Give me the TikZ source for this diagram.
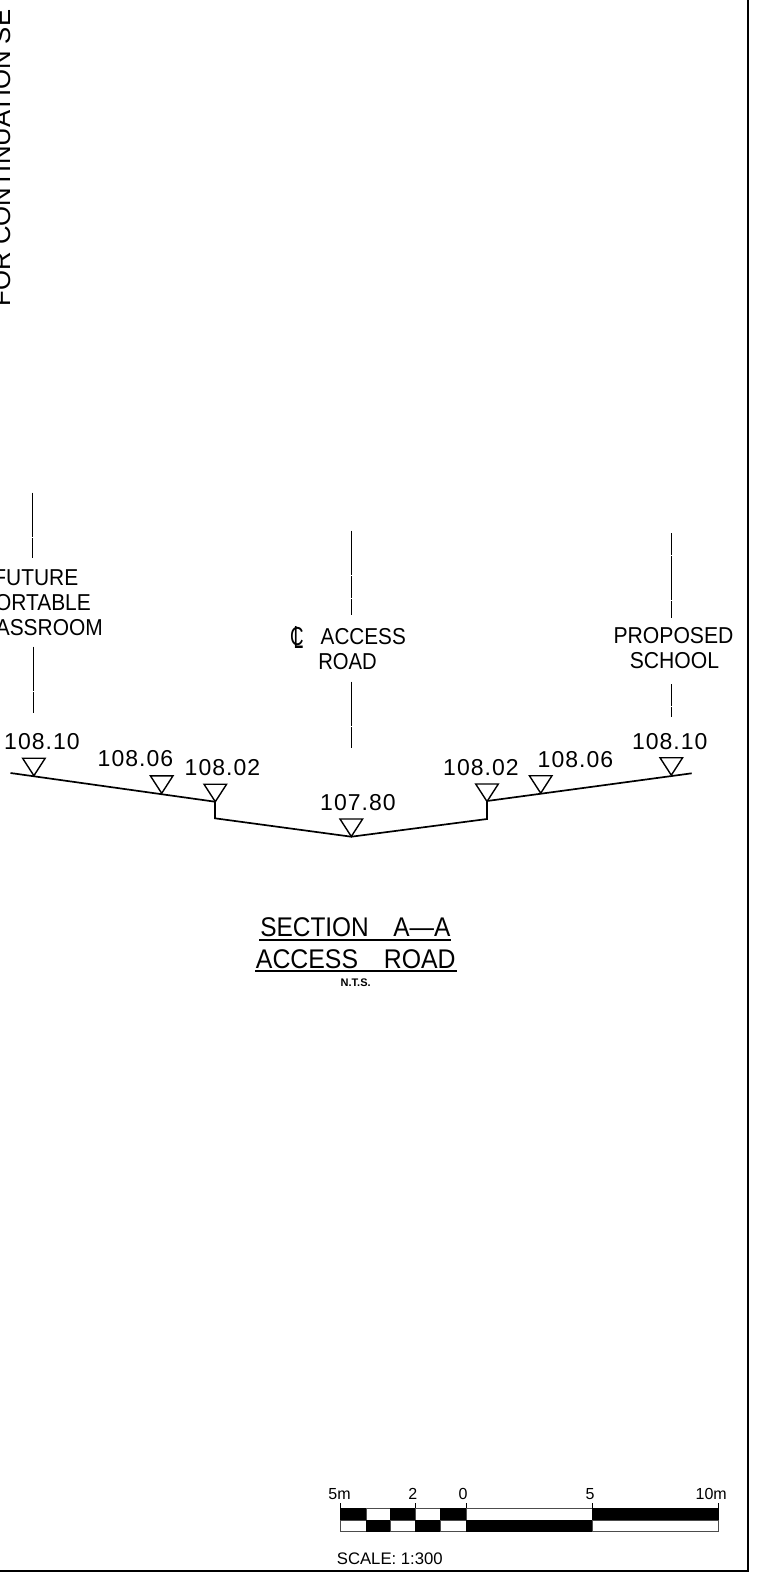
\documentclass[tikz,border=0pt]{standalone}
\usepackage{fontspec}
\setmainfont{Liberation Sans}
\newfontfamily\digf[LetterSpace=4.5]{Liberation Sans}
\tikzset{
  lab/.style={inner sep=0pt,anchor=base,font=\fontsize{23}{23}\selectfont,transform shape},
  elev/.style={inner sep=0pt,anchor=base,font=\digf\fontsize{23}{23}\selectfont},
  titl/.style={inner sep=0pt,anchor=base,font=\fontsize{27}{27}\selectfont,transform shape},
  sbar/.style={inner sep=0pt,anchor=base,font=\fontsize{16}{16}\selectfont},
  ground/.style={draw=black,line width=1.7pt,line join=miter},
  tri/.style={draw=black,line width=1.4pt,line join=miter},
  cline/.style={draw=black,line width=1.15pt,dash pattern=on 22pt off .7pt},
  ruler/.style={draw=black,line width=1.7pt},
  frameline/.style={draw=black,line width=1.8pt},
  barblk/.style={fill=black,draw=black,line width=.5pt},
  barwht/.style={fill=white,draw=black!70,line width=.9pt},
}
\newcommand{\elevtri}[3]{%
  \coordinate (t#1a) at (#2-11.3,#3-17.5);
  \coordinate (t#1b) at (#2+11.3,#3-17.5);
  \coordinate (t#1c) at (#2,#3);
  \draw[tri] (t#1a) -- (t#1b) -- (t#1c) -- cycle;
}
\begin{document}
\begin{tikzpicture}[x=1pt,y=-1pt]
\useasboundingbox (0,0) rectangle (763,1573);
\clip (0,0) rectangle (763,1573);
% frame
\coordinate (fa) at (747.7,0);
\coordinate (fb) at (747.7,1571);
\coordinate (fc) at (0,1571);
\draw[frameline] (fa) -- (fb) -- (fc);
% clipped side note
\node[lab,font=\fontsize{25.7}{25.7}\selectfont,anchor=base west,rotate=90] (note) at (10,306.5) {FOR CONTINUATION SE};
% centre lines
\coordinate (l1a) at (32.5,492.7); \coordinate (l1b) at (32.5,558);
\coordinate (l2a) at (33.5,646.7); \coordinate (l2b) at (33.5,713);
\coordinate (l3a) at (351.5,530.7); \coordinate (l3b) at (351.5,615);
\coordinate (l4a) at (351.5,681.7); \coordinate (l4b) at (351.5,748);
\coordinate (l5a) at (671.5,533); \coordinate (l5b) at (671.5,617.7);
\coordinate (l6a) at (671.5,684); \coordinate (l6b) at (671.5,716.7);
\draw[cline] (l1a) -- (l1b);
\draw[cline] (l2a) -- (l2b);
\draw[cline] (l3a) -- (l3b);
\draw[cline] (l4a) -- (l4b);
\draw[cline] (l5a) -- (l5b);
\draw[cline] (l6a) -- (l6b);
% labels
\node[lab,anchor=base east,xscale=.91] (f1) at (78.5,585.5) {FUTURE};
\node[lab,anchor=base east,xscale=.91] (f2) at (91,610.5) {ORTABLE};
\node[lab,anchor=base east,xscale=.91] (f3) at (103,635.5) {ASSROOM};
\node[lab,font=\fontsize{26}{26}\selectfont,xscale=.72] (clc) at (296.8,645) {C};
\node[lab,font=\fontsize{32}{32}\selectfont,anchor=base west,xscale=.55] (cll) at (293.5,648) {L};
\node[lab,anchor=base east,xscale=.9] (acc) at (406,644) {ACCESS};
\node[lab,xscale=.88] (road) at (347.5,669) {ROAD};
\node[lab,xscale=.92] (prop) at (673.5,643.7) {PROPOSED};
\node[lab,xscale=.92] (sch) at (674.5,668.7) {SCHOOL};
% ground
\coordinate (g1) at (10.5,773);
\coordinate (g2) at (215,801.7);
\coordinate (g3) at (215,818.3);
\coordinate (g4) at (351.3,836.7);
\coordinate (g5) at (487,819);
\coordinate (g6) at (487,801);
\coordinate (g7) at (691.7,773.3);
\draw[ground] (g1) -- (g2) -- (g3) -- (g4) -- (g5) -- (g6) -- (g7);
% triangles
\elevtri{1}{33.9}{775.7}
\elevtri{2}{161.7}{793.3}
\elevtri{3}{215.3}{801.7}
\elevtri{4}{351.3}{836.5}
\elevtri{5}{487}{801.5}
\elevtri{6}{540.7}{793.2}
\elevtri{7}{671.3}{775.2}
% elevations
\node[elev] (e1) at (42,749) {108.10};
\node[elev] (e2) at (135.5,766.8) {108.06};
\node[elev] (e3) at (222.5,775.2) {108.02};
\node[elev] (e4) at (358,810.8) {107.80};
\node[elev] (e5) at (481,775.5) {108.02};
\node[elev] (e6) at (575.5,767) {108.06};
\node[elev] (e7) at (669.8,749.5) {108.10};
% title
\node[titl,xscale=.905] (t1) at (355.3,936.7) {SECTION\hspace{27pt}A---A};
\node[titl,xscale=.92] (t2) at (355.8,968.2) {ACCESS\hspace{28pt}ROAD};
\coordinate (u1a) at (259,940); \coordinate (u1b) at (450.7,940);
\coordinate (u2a) at (255,970.7); \coordinate (u2b) at (457,970.7);
\draw[ruler] (u1a) -- (u1b);
\draw[ruler] (u2a) -- (u2b);
\node[inner sep=0pt,anchor=base,font=\bfseries\fontsize{11}{11}\selectfont] (nts) at (355.7,986) {N.T.S.};
% scale bar
\foreach \a/\b/\st in {340/366/barblk,366/390/barwht,390/415.7/barblk,415.7/440/barwht,440/466/barblk,466/592.3/barwht,592.3/718.3/barblk}
  \path[\st] (\a,1508.3) rectangle (\b,1520);
\foreach \a/\b/\st in {340/366/barwht,366/390/barblk,390/415.7/barwht,415.7/440/barblk,440/466/barwht,466/592.3/barblk,592.3/718.3/barwht}
  \path[\st] (\a,1520) rectangle (\b,1531);
\foreach \x in {340,415.7,466,592.3,718.3}
  \draw[black,line width=.8pt] (\x,1503) -- (\x,1508.3);
\node[sbar] (s1) at (339.5,1499.5) {5m};
\node[sbar] (s2) at (412.7,1499.5) {2};
\node[sbar] (s3) at (463,1499.5) {0};
\node[sbar] (s4) at (590,1499.5) {5};
\node[sbar] (s5) at (711.2,1499.5) {10m};
\node[sbar,anchor=base west,font=\fontsize{16.7}{16.7}\selectfont] (sc) at (336.7,1564) {SCALE: 1:300};
\end{tikzpicture}
\end{document}
